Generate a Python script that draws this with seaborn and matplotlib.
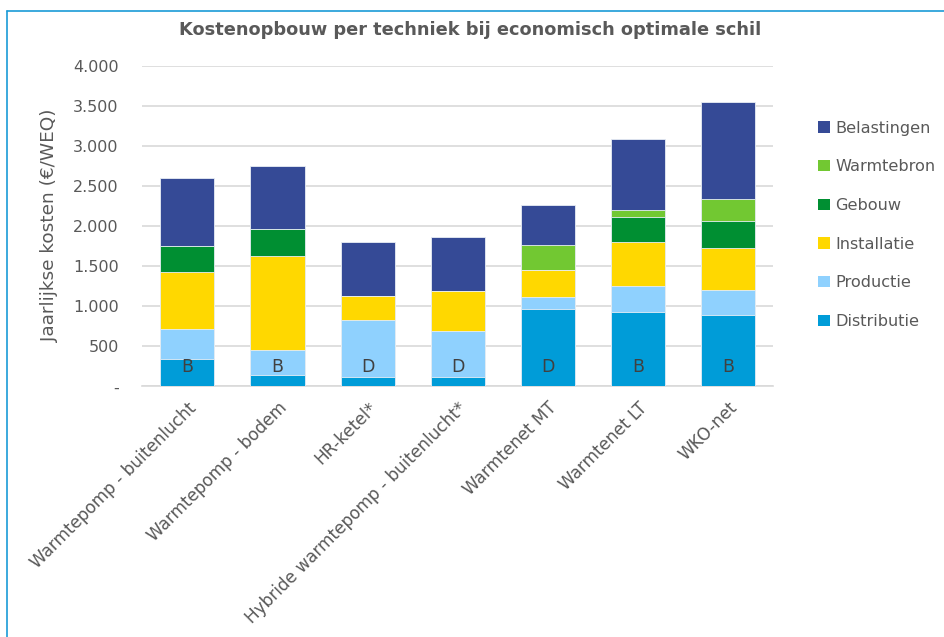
import matplotlib
matplotlib.use("Agg")
import matplotlib.pyplot as plt
from matplotlib.lines import Line2D
from matplotlib.patches import Patch
import matplotlib.ticker as mticker
import numpy as np
import pandas as pd
import seaborn as sns

categories = ["Warmtepomp - buitenlucht", "Warmtepomp - bodem", "HR-ketel*",
              "Hybride warmtepomp - buitenlucht*", "Warmtenet MT", "Warmtenet LT", "WKO-net"]
distributie = [340, 135, 120, 120, 970, 930, 885]
productie = [375, 320, 710, 575, 140, 320, 320]
installatie = [715, 1170, 295, 490, 340, 555, 520]
gebouw = [320, 335, 0, 0, 0, 305, 335]
warmtebron = [0, 0, 0, 0, 315, 90, 280]
belastingen = [845, 790, 675, 680, 495, 890, 1210]
bar_labels = ["B", "B", "D", "D", "D", "B", "B"]

series_names = ["Distributie", "Productie", "Installatie", "Gebouw", "Warmtebron", "Belastingen"]
series_values = [distributie, productie, installatie, gebouw, warmtebron, belastingen]
colors = {"Distributie": "#009cd8", "Productie": "#8fd1fe", "Installatie": "#ffd800",
          "Gebouw": "#008f32", "Warmtebron": "#72c832", "Belastingen": "#354a96"}

sns.set_theme(style="white")
plt.rcParams['font.family'] = ['DejaVu Sans']
txt = "#595959"

fig = plt.figure(figsize=(9.45, 6.37), dpi=100)
ax = fig.add_axes([142.3/945, 1-386.3/637, 631/945, 320.6/637])

cum = np.zeros(len(categories))
cums = []
for name, vals in zip(series_names, series_values):
    cum = cum + np.array(vals, dtype=float)
    cums.append(cum.copy())
# draw from top (largest cumulative) to bottom so lower segments overlay
for name, c in reversed(list(zip(series_names, cums))):
    d = pd.DataFrame({"cat": categories, "val": c})
    sns.barplot(data=d, x="cat", y="val", order=categories, color=colors[name],
                width=0.6, ax=ax, saturation=1, edgecolor="#e8eef5", linewidth=0.6, zorder=3)

for i, lab in enumerate(bar_labels):
    ax.text(i, 235, lab, ha="center", va="center", fontsize=12.5, color="#404040", zorder=5)

ax.set_xlim(-0.5, 6.5)
ax.set_ylim(0, 4000)
ax.set_yticks(np.arange(0, 4001, 500))
ax.yaxis.set_major_formatter(mticker.FuncFormatter(
    lambda v, p: "-" if v == 0 else f"{int(v):,}".replace(",", ".")))
ax.grid(axis="y", color="#d9d9d9", linewidth=1.2, zorder=0)
ax.set_axisbelow(True)
for s in ["top", "right", "left"]:
    ax.spines[s].set_visible(False)
ax.spines["bottom"].set_color("#d9d9d9")
ax.spines["bottom"].set_linewidth(1.2)
ax.tick_params(axis="y", length=0, pad=17, labelsize=11.5, labelcolor=txt)
ax.tick_params(axis="x", length=0, pad=9, labelsize=12.2, labelcolor=txt)
ax.set_xlabel("")
ax.set_ylabel("")
for lbl in ax.get_xticklabels():
    lbl.set_rotation(45)
    lbl.set_ha("right")
    lbl.set_rotation_mode("anchor")

fig.text(50/945, 1-226/637, "Jaarlijkse kosten (€/WEQ)", rotation=90, ha="center", va="center",
         fontsize=13.3, color=txt)
fig.text(470/945, 1-30/637, "Kostenopbouw per techniek bij economisch optimale schil",
         ha="center", va="center", fontsize=12.8, fontweight="bold", color=txt)

handles = [Patch(facecolor=colors[n], edgecolor="none") for n in reversed(series_names)]
leg = fig.legend(handles, list(reversed(series_names)), loc="upper left",
                 bbox_to_anchor=(804/945, 1-106/637), frameon=False, fontsize=11.6,
                 labelcolor=txt, handlelength=0.7, handleheight=0.7, handletextpad=0.35,
                 labelspacing=1.47)

fig.add_artist(Line2D([7.3/945, 7.3/945], [0, 1-11/637], color="#1a9bd7", linewidth=1.2))
fig.add_artist(Line2D([7.3/945, 1], [1-11/637, 1-11/637], color="#1a9bd7", linewidth=1.2))

fig.savefig("out.png", dpi=100)
